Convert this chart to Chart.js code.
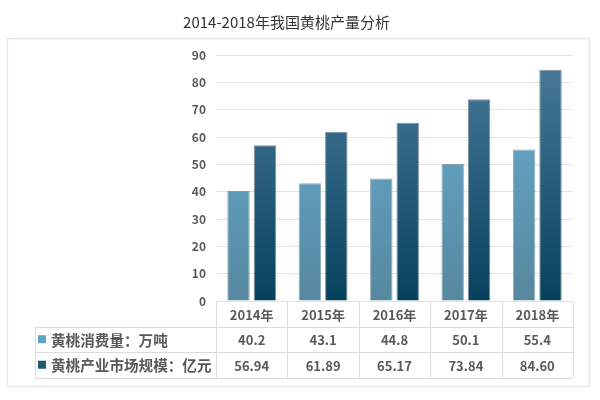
<!DOCTYPE html>
<html>
<head>
<meta charset="utf-8">
<script src="https://cdn.jsdelivr.net/npm/chart.js@4/dist/chart.umd.min.js"></script>
<style>
  html, body { margin: 0; padding: 0; background: #fff; }
  #wrap { width: 600px; height: 400px; }
</style>
</head>
<body>
<div id="wrap"><canvas id="peachChart" width="600" height="400"></canvas></div>
<script>
const years = ["2014年", "2015年", "2016年", "2017年", "2018年"];
const consumption = [40.2, 43.1, 44.8, 50.1, 55.4];
const marketSize = [56.94, 61.89, 65.17, 73.84, 84.60];
const consumptionText = ["40.2", "43.1", "44.8", "50.1", "55.4"];
const marketText = ["56.94", "61.89", "65.17", "73.84", "84.60"];
const seriesNames = ["黄桃消费量：万吨", "黄桃产业市场规模：亿元"];

const cjkFont = '"Noto Sans CJK SC", "Noto Sans", sans-serif';

function barGradient(ctx, top, bottom) {
  const chart = ctx.chart;
  const area = chart.chartArea;
  if (!area) return top;
  const g = chart.ctx.createLinearGradient(0, area.top, 0, area.bottom);
  g.addColorStop(0, top);
  g.addColorStop(1, bottom);
  return g;
}

// frame around the plot + the data table under it
const tablePlugin = {
  id: "dataTable",
  beforeDraw(chart) {
    const c = chart.ctx;
    c.save();
    c.strokeStyle = "#e6e6e6";
    c.lineWidth = 1.5;
    c.strokeRect(7.5, 38.5, 582, 348);
    c.restore();
  },
  afterDraw(chart) {
    const c = chart.ctx;
    const x = chart.scales.x;
    const area = chart.chartArea;
    const colW = (area.right - area.left) / years.length;
    const rowH = 25.5;
    const top = area.bottom;
    const legendLeft = 35;

    c.save();
    c.strokeStyle = "#dcdcdc";
    c.lineWidth = 1;
    // column lines
    for (let i = 0; i <= years.length; i++) {
      const px = Math.round(area.left + i * colW) + 0.5;
      c.beginPath();
      c.moveTo(px, top);
      c.lineTo(px, top + rowH * 3);
      c.stroke();
    }
    // row lines
    for (let r = 1; r <= 3; r++) {
      const py = Math.round(top + rowH * r) + 0.5;
      c.beginPath();
      c.moveTo(legendLeft, py);
      c.lineTo(area.right, py);
      c.stroke();
    }
    c.beginPath();
    c.moveTo(legendLeft + 0.5, top + rowH);
    c.lineTo(legendLeft + 0.5, top + rowH * 3);
    c.stroke();

    c.fillStyle = "#595959";
    c.font = "bold 13px " + cjkFont;
    c.textAlign = "center";
    c.textBaseline = "middle";
    years.forEach((y, i) => {
      const cx = x.getPixelForValue(i);
      c.fillText(y, cx, top + rowH * 0.5 + 1);
      c.fillText(consumptionText[i], cx, top + rowH * 1.5 + 1);
      c.fillText(marketText[i], cx, top + rowH * 2.5 + 1);
    });

    const swatch = ["#5fa3c6", "#1d5877"];
    c.textAlign = "left";
    c.font = "bold 14.6px " + cjkFont;
    seriesNames.forEach((name, i) => {
      const cy = top + rowH * (i + 1.5);
      c.fillStyle = swatch[i];
      c.fillRect(legendLeft + 3, cy - 4, 8, 8);
      c.fillStyle = "#595959";
      c.fillText(name, legendLeft + 16, cy + 1);
    });
    c.restore();
  }
};

new Chart(document.getElementById("peachChart"), {
  type: "bar",
  data: {
    labels: years,
    datasets: [
      {
        label: seriesNames[0],
        data: consumption,
        backgroundColor: ctx => barGradient(ctx, "#68afd3", "#56889f"),
        borderColor: "rgba(60,100,120,0.55)",
        borderWidth: 1,
        categoryPercentage: 0.74,
        barPercentage: 0.85
      },
      {
        label: seriesNames[1],
        data: marketSize,
        backgroundColor: ctx => barGradient(ctx, "#4a7b9a", "#07425d"),
        borderColor: "rgba(20,50,70,0.55)",
        borderWidth: 1,
        categoryPercentage: 0.74,
        barPercentage: 0.85
      }
    ]
  },
  options: {
    responsive: false,
    animation: false,
    layout: { padding: { left: 0, right: 27, top: 0, bottom: 99 } },
    plugins: {
      legend: { display: false },
      tooltip: { enabled: false },
      title: {
        display: true,
        text: "2014-2018年我国黄桃产量分析",
        color: "#333",
        font: { family: cjkFont, size: 15, weight: "normal" },
        padding: { top: 13, bottom: 24 }
      }
    },
    scales: {
      x: { display: false, grid: { display: false } },
      y: {
        min: 0,
        max: 90,
        ticks: {
          stepSize: 10,
          color: "#595959",
          font: { family: cjkFont, size: 12, weight: "bold" },
          padding: 10
        },
        grid: { color: "#e4e4e4", drawTicks: false },
        border: { display: false },
        afterFit(scale) { scale.width = 216; }
      }
    }
  },
  plugins: [tablePlugin]
});
</script>
</body>
</html>
